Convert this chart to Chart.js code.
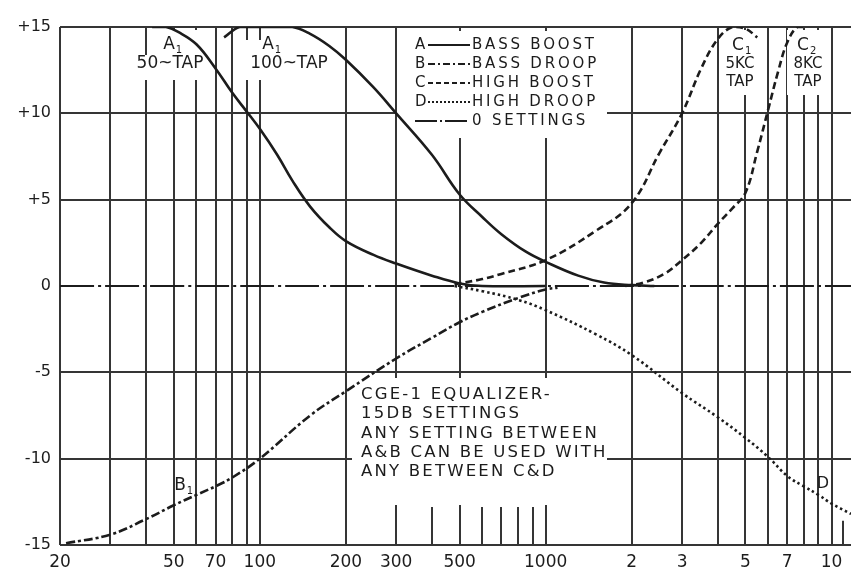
<!DOCTYPE html>
<html>
<head>
<meta charset="utf-8">
<script src="https://cdn.jsdelivr.net/npm/chart.js@4.4.1/dist/chart.umd.min.js"></script>
<style>
  html, body { margin: 0; padding: 0; background: #fff; }
  #wrap { width: 851px; height: 570px; }
</style>
</head>
<body>
<div id="wrap"><canvas id="chart" width="851" height="570"></canvas></div>
<script>
// axis ticks
const freqTicks = [20, 30, 40, 50, 60, 70, 80, 90, 100, 200, 300, 500, 1000, 2000, 3000, 4000, 5000, 6000, 7000, 8000, 9000, 10000];
const freqLabels = { 20: '20', 50: '50', 70: '70', 100: '100', 200: '200', 300: '300', 500: '500', 1000: '1000', 2000: '2', 3000: '3', 5000: '5', 7000: '7', 10000: '10' };
const shortTicks = [400, 600, 700, 800, 900];
const dbTicks = [-15, -10, -5, 0, 5, 10, 15];

// curves (Hz / dB)
const zeroFreq = [20, 11700];
const zeroDb = [0, 0];

const a50Freq = [42, 47, 52, 60, 70, 80, 90, 100, 115, 130, 150, 175, 200, 250, 300, 400, 500, 600, 1000];
const a50Db = [15, 15, 14.7, 14.0, 12.6, 11.2, 10.1, 9.1, 7.6, 6.1, 4.6, 3.4, 2.6, 1.8, 1.3, 0.6, 0.15, 0, 0];

const a100Freq = [75, 85, 100, 130, 150, 175, 200, 250, 300, 400, 500, 600, 700, 850, 1000, 1300, 1600, 2000, 2400];
const a100Db = [14.4, 15, 15, 15, 14.6, 13.9, 13.1, 11.5, 10.0, 7.6, 5.3, 4.0, 3.0, 2.0, 1.4, 0.6, 0.2, 0.05, 0];

const b1Freq = [21, 30, 40, 50, 60, 70, 80, 100, 150, 200, 300, 400, 500, 600, 800, 1000, 1100];
const b1Db = [-14.9, -14.4, -13.5, -12.7, -12.1, -11.6, -11.1, -10.0, -7.5, -6.1, -4.2, -3.0, -2.1, -1.5, -0.7, -0.2, -0.1];

const c1Freq = [480, 600, 700, 1000, 1500, 2000, 2500, 3000, 3500, 4000, 4500, 5000, 5500];
const c1Db = [0.1, 0.4, 0.7, 1.5, 3.2, 4.8, 7.7, 10.0, 12.6, 14.3, 15, 14.9, 14.4];

const c2Freq = [1900, 2200, 2600, 3000, 3500, 4000, 4500, 5000, 5500, 6000, 6500, 7000, 7600, 8200];
const c2Db = [0, 0.2, 0.7, 1.5, 2.5, 3.6, 4.5, 5.4, 7.8, 10.2, 12.4, 14.1, 15, 15];

const dFreq = [480, 600, 800, 1000, 1500, 2000, 3000, 4000, 5000, 6000, 7000, 8000, 9000, 10000, 11700];
const dDb = [0, -0.3, -0.8, -1.4, -2.8, -4.0, -6.2, -7.6, -8.8, -9.9, -11.0, -11.6, -12.1, -12.6, -13.2];

const pts = (f, d) => f.map((v, i) => ({ x: v, y: d[i] }));

const INK = '#1c1c1c';
const GRID = '#353535';
const FONT = '"DejaVu Sans", sans-serif';

function curve(label, f, d, dash, width) {
  return {
    label: label,
    data: pts(f, d),
    borderColor: INK,
    borderWidth: width || 2.6,
    borderDash: dash,
    pointRadius: 0,
    fill: false,
    tension: 0.4
  };
}

// text, masks and legend drawn on top of the grid
const overlay = {
  id: 'overlay',
  beforeDatasetsDraw(chart) {
    const { ctx, scales: { x, y } } = chart;
    ctx.save();

    // white patches where the scan has gaps in the grid
    ctx.fillStyle = '#fff';
    [[150, 30, 55, 25], [128, 55, 82, 25], [238, 40, 100, 40], [722, 30, 38, 65],
     [787, 30, 39, 65], [397, 31, 210, 107], [352, 378, 255, 127]].forEach(r => ctx.fillRect(r[0], r[1], r[2], r[3]));

    // short ticks at the foot
    ctx.strokeStyle = GRID;
    ctx.lineWidth = 2;
    shortTicks.forEach(f => {
      const px = Math.round(x.getPixelForValue(f));
      ctx.beginPath();
      ctx.moveTo(px, y.getPixelForValue(-12.8));
      ctx.lineTo(px, y.bottom);
      ctx.stroke();
    });
    const p11 = Math.round(x.getPixelForValue(11000));
    ctx.beginPath();
    ctx.moveTo(p11, y.getPixelForValue(-13.6));
    ctx.lineTo(p11, y.bottom);
    ctx.stroke();

    ctx.fillStyle = INK;
    ctx.textBaseline = 'middle';

    // curve labels
    function sub(letter, s, cx, cy) {
      ctx.font = '17px ' + FONT;
      ctx.letterSpacing = '0px';
      ctx.textAlign = 'left';
      const w = ctx.measureText(letter).width;
      ctx.fillText(letter, cx - w / 2 - 2, cy);
      ctx.font = '10px ' + FONT;
      ctx.fillText(s, cx + w / 2 - 1, cy + 5);
    }
    function line(t, cx, cy, size, sp) {
      ctx.font = size + 'px ' + FONT;
      ctx.letterSpacing = sp + 'px';
      ctx.textAlign = 'center';
      ctx.fillText(t, cx, cy);
    }
    sub('A', '1', 171, 45);
    line('50~TAP', 170, 64, 17, 0);
    sub('A', '1', 270, 45);
    line('100~TAP', 289, 64, 17, 0);
    sub('C', '1', 740, 46);
    line('5KC', 740, 64, 15, 0);
    line('TAP', 740, 82, 15, 0);
    sub('C', '2', 805, 46);
    line('8KC', 808, 64, 15, 0);
    line('TAP', 808, 82, 15, 0);
    sub('B', '1', 182, 486);
    line('D', 823, 484, 16, 0);

    // legend
    const rows = [
      ['A', 'BASS BOOST', []],
      ['B', 'BASS DROOP', [7, 3, 2, 3]],
      ['C', 'HIGH BOOST', [5, 3]],
      ['D', 'HIGH DROOP', [2, 2]],
      ['', '0 SETTINGS', [22, 3, 2, 3]]
    ];
    rows.forEach((r, i) => {
      const cy = 45 + i * 19;
      ctx.font = '15px ' + FONT;
      ctx.letterSpacing = '0px';
      ctx.textAlign = 'left';
      if (r[0]) ctx.fillText(r[0], 415, cy);
      ctx.save();
      ctx.strokeStyle = INK;
      ctx.lineWidth = 2;
      ctx.setLineDash(r[2]);
      ctx.beginPath();
      ctx.moveTo(r[0] ? 428 : 415, cy);
      ctx.lineTo(470, cy);
      ctx.stroke();
      ctx.restore();
      ctx.letterSpacing = '2.8px';
      ctx.fillText(r[1], 472, cy);
    });

    // note
    const note = ['CGE-1 EQUALIZER-', '15DB SETTINGS', 'ANY SETTING BETWEEN', 'A&B CAN BE USED WITH', 'ANY BETWEEN C&D'];
    ctx.font = '16.5px ' + FONT;
    ctx.letterSpacing = '2.2px';
    ctx.textAlign = 'left';
    note.forEach((t, i) => ctx.fillText(t, 361, 395 + i * 19.2));

    ctx.restore();
  }
};

new Chart(document.getElementById('chart'), {
  type: 'line',
  data: {
    datasets: [
      curve('A 50~', a50Freq, a50Db, []),
      curve('A 100~', a100Freq, a100Db, []),
      curve('B', b1Freq, b1Db, [9, 3, 3, 3]),
      curve('C 5KC', c1Freq, c1Db, [7, 4]),
      curve('C 8KC', c2Freq, c2Db, [7, 4]),
      curve('D', dFreq, dDb, [2.5, 3]),
      curve('0', zeroFreq, zeroDb, [34, 4, 3, 4], 2.2)
    ]
  },
  options: {
    responsive: false,
    animation: false,
    layout: { padding: { top: 27, right: 0, left: 0, bottom: 0 } },
    plugins: { legend: { display: false }, tooltip: { enabled: false } },
    scales: {
      x: {
        type: 'logarithmic',
        min: 20,
        max: 11700,
        afterBuildTicks: s => { s.ticks = freqTicks.map(v => ({ value: v })); },
        afterFit: s => { s.height = 25; },
        border: { display: false },
        grid: { color: GRID, lineWidth: 2, drawTicks: false },
        ticks: {
          autoSkip: false,
          maxRotation: 0,
          padding: 7,
          color: INK,
          font: { family: FONT, size: 17 },
          callback: v => freqLabels[v] || ''
        }
      },
      y: {
        min: -15,
        max: 15,
        afterBuildTicks: s => { s.ticks = dbTicks.map(v => ({ value: v })); },
        afterFit: s => { s.width = 60; },
        border: { display: false },
        grid: {
          color: c => (c.tick && c.tick.value === 0 ? 'rgba(0,0,0,0)' : GRID),
          lineWidth: 2,
          drawTicks: false
        },
        ticks: {
          padding: 9,
          color: INK,
          font: { family: FONT, size: 16 },
          callback: v => (v > 0 ? '+' + v : String(v))
        }
      }
    }
  },
  plugins: [overlay]
});
</script>
</body>
</html>
